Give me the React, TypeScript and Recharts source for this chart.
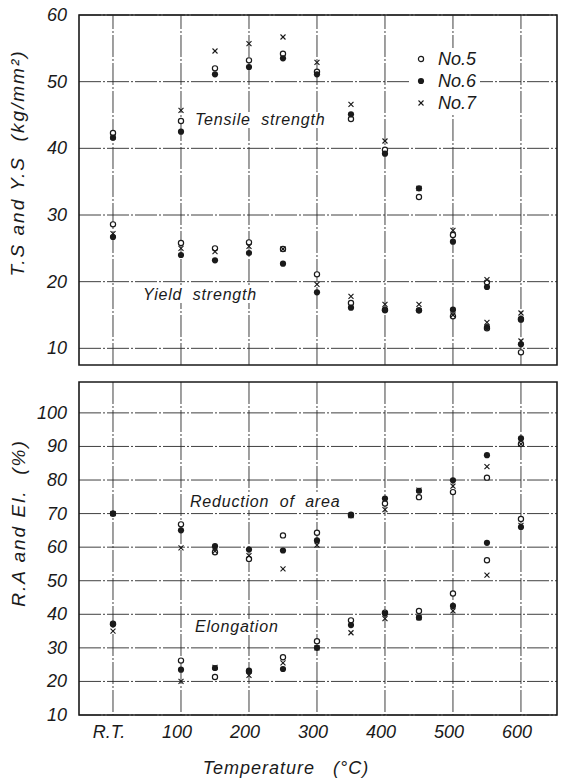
import React from 'react';
import { ScatterChart, Scatter, XAxis, YAxis, CartesianGrid, ReferenceArea, ReferenceLine } from 'recharts';

// Test temperatures (°C); R.T. plotted at 0
const temps = [0, 100, 150, 200, 250, 300, 350, 400, 450, 500, 550, 600];
const xTicks = [0, 100, 200, 300, 400, 500, 600];
const xTickLabels = ['R.T.', '100', '200', '300', '400', '500', '600'];
const topTicks = [10, 20, 30, 40, 50, 60];
const bottomTicks = [10, 20, 30, 40, 50, 60, 70, 80, 90, 100];

// Tensile strength (kg/mm²)
const ts5 = [42.3, 44.1, 52.0, 53.2, 54.2, 51.5, 44.4, 39.8, 32.7, 27.0, 19.9, 14.4];
const ts6 = [41.6, 42.5, 51.1, 52.2, 53.5, 51.1, 45.1, 39.2, 34.0, 26.0, 19.2, 14.3];
const ts7 = [41.7, 45.7, 54.6, 55.7, 56.7, 52.9, 46.6, 41.1, 34.0, 27.7, 20.3, 15.3];
// Yield strength (kg/mm²)
const ys5 = [28.6, 25.8, 25.0, 25.9, 24.9, 21.1, 16.8, 15.8, 15.7, 14.8, 13.0, 9.4];
const ys6 = [26.7, 24.0, 23.2, 24.3, 22.7, 18.4, 16.1, 15.7, 15.7, 15.8, 13.2, 10.6];
const ys7 = [27.2, 25.0, 24.5, 25.3, 24.9, 19.6, 17.8, 16.6, 16.6, 15.0, 13.9, 11.1];
// Reduction of area (%)
const ra5 = [70, 66.8, 58.5, 56.5, 63.5, 64.3, 69.5, 73.0, 74.9, 76.4, 80.7, 90.7];
const ra6 = [70, 65.0, 60.3, 59.3, 59.0, 62.0, 69.7, 74.5, 76.8, 79.9, 87.4, 92.4];
const ra7 = [70, 59.8, 58.8, 57.5, 53.5, 60.6, 69.4, 71.2, 77.0, 78.2, 84.0, 90.7];
// Elongation (%)
const el5 = [37.2, 26.2, 21.3, 23.0, 27.2, 32.0, 38.2, 40.5, 41.0, 46.2, 56.1, 68.4];
const el6 = [37.0, 23.5, 24.0, 23.2, 23.7, 30.0, 36.8, 40.2, 39.0, 42.5, 61.3, 66.0];
const el7 = [35.0, 20.0, 24.2, 21.8, 25.5, 30.0, 34.5, 38.7, 39.0, 41.0, 51.7, 66.5];

const specimens = ['No.5', 'No.6', 'No.7'];

const toPts = (vals: number[]) => temps.map((t, i) => ({ t, v: vals[i] }));

const INK = '#1a1a1a';
const FONT = '"Liberation Sans", Arial, sans-serif';

const OpenDot = (p: any) => (
  <circle cx={p.cx} cy={p.cy} r={2.6} fill="#fff" stroke={INK} strokeWidth={1.2} />
);
const FilledDot = (p: any) => <circle cx={p.cx} cy={p.cy} r={3.1} fill={INK} stroke="none" />;
const Cross = (p: any) => (
  <g stroke={INK} strokeWidth={1.1}>
    <line x1={p.cx - 2.5} y1={p.cy - 2.5} x2={p.cx + 2.5} y2={p.cy + 2.5} />
    <line x1={p.cx - 2.5} y1={p.cy + 2.5} x2={p.cx + 2.5} y2={p.cy - 2.5} />
  </g>
);
const shapes = [OpenDot, FilledDot, Cross];

const YTick = (p: any) => (
  <text x={p.x} y={p.y} textAnchor="end" dominantBaseline="central" fontFamily={FONT}
    fontStyle="italic" fontSize={18} fill={INK}>
    {p.payload.value}
  </text>
);
const XTick = (p: any) => {
  const idx = xTicks.indexOf(p.payload.value);
  return (
    <text x={p.x - 4} y={p.y + 9} textAnchor="middle" dominantBaseline="central" fontFamily={FONT}
      fontStyle="italic" fontSize={18} fill={INK}>
      {idx >= 0 ? xTickLabels[idx] : ''}
    </text>
  );
};

const txt: React.CSSProperties = {
  position: 'absolute',
  fontFamily: FONT,
  fontStyle: 'italic',
  color: INK,
  whiteSpace: 'nowrap',
  lineHeight: 1,
};

const gridStroke = '#2a2a2a';
const gridDash = '22 2 2 2';
const X_DOMAIN: [number, number] = [-50, 653];

export default function App() {
  const topSeries = [
    [ts5, ts6, ts7],
    [ys5, ys6, ys7],
  ];
  const botSeries = [
    [ra5, ra6, ra7],
    [el5, el6, el7],
  ];
  return (
    <div style={{ position: 'absolute', left: 0, top: 0, width: 562, height: 781, background: '#fff', overflow: 'hidden' }}>
      <div style={{ position: 'absolute', left: 0, top: 0 }}>
        <ScatterChart width={562} height={370} margin={{ top: 15, right: 5, bottom: 5, left: 0 }}>
          <CartesianGrid stroke={gridStroke} strokeWidth={0.9} strokeDasharray={gridDash}
            horizontalValues={topTicks} vertical={false} />
          <XAxis type="number" dataKey="t" domain={X_DOMAIN} ticks={xTicks} allowDataOverflow
            height={0} tick={false} axisLine={false} tickLine={false} />
          <YAxis type="number" dataKey="v" domain={[7.5, 60]} ticks={topTicks} allowDataOverflow width={79}
            tick={<YTick />} axisLine={false} tickLine={false} tickMargin={6} />
          {xTicks.map((t) => (
            <ReferenceLine key={`vl${t}`} x={t} stroke={gridStroke} strokeWidth={0.9} strokeDasharray={gridDash} />
          ))}
          <ReferenceArea x1={X_DOMAIN[0]} x2={X_DOMAIN[1]} y1={7.5} y2={60} fill="none" stroke={INK} strokeWidth={1.6} ifOverflow="visible" />
          {topSeries.map((grp, g) =>
            grp.map((vals, s) => (
              <Scatter key={`t${g}${s}`} data={toPts(vals)} shape={shapes[s]} isAnimationActive={false} />
            ))
          )}
        </ScatterChart>
      </div>
      <div style={{ position: 'absolute', left: 0, top: 370 }}>
        <ScatterChart width={562} height={411} margin={{ top: 12, right: 5, bottom: 6, left: 0 }}>
          <CartesianGrid stroke={gridStroke} strokeWidth={0.9} strokeDasharray={gridDash}
            horizontalValues={bottomTicks} verticalValues={xTicks} />
          <XAxis type="number" dataKey="t" domain={X_DOMAIN} ticks={xTicks} allowDataOverflow
            height={60} tick={<XTick />} axisLine={false} tickLine={false} />
          <YAxis type="number" dataKey="v" domain={[10, 109.2]} ticks={bottomTicks} allowDataOverflow width={79}
            tick={<YTick />} axisLine={false} tickLine={false} tickMargin={6} />
          <ReferenceArea x1={X_DOMAIN[0]} x2={X_DOMAIN[1]} y1={10} y2={109.2} fill="none" stroke={INK} strokeWidth={1.6} ifOverflow="visible" />
          {botSeries.map((grp, g) =>
            grp.map((vals, s) => (
              <Scatter key={`b${g}${s}`} data={toPts(vals)} shape={shapes[s]} isAnimationActive={false} />
            ))
          )}
        </ScatterChart>
      </div>

      {/* Axis titles */}
      <div style={{ ...txt, fontSize: 19, letterSpacing: 2, left: 17, top: 163, transform: 'translate(-50%, -50%) rotate(-90deg)' }}>
        T.S and Y.S&nbsp;&nbsp;(kg/mm²)
      </div>
      <div style={{ ...txt, fontSize: 19, letterSpacing: 2, left: 18, top: 523, transform: 'translate(-50%, -50%) rotate(-90deg)' }}>
        R.A and El.&nbsp;&nbsp;(%)
      </div>
      <div style={{ ...txt, fontSize: 18, letterSpacing: 1, left: 286, top: 768, transform: 'translate(-50%, -50%)' }}>
        Temperature&nbsp;&nbsp;&nbsp;(°C)
      </div>

      {/* Curve annotations */}
      <div style={{ ...txt, fontSize: 16, letterSpacing: 0.8, left: 193, top: 120, transform: 'translateY(-50%)', background: '#fff', padding: '0 2px' }}>Tensile&nbsp;&nbsp;strength</div>
      <div style={{ ...txt, fontSize: 16, letterSpacing: 0.8, left: 141, top: 295, transform: 'translateY(-50%)', background: '#fff', padding: '0 2px' }}>Yield&nbsp;&nbsp;strength</div>
      <div style={{ ...txt, fontSize: 16, letterSpacing: 0.8, left: 188, top: 502, transform: 'translateY(-50%)', background: '#fff', padding: '0 2px' }}>Reduction&nbsp;&nbsp;of&nbsp;&nbsp;area</div>
      <div style={{ ...txt, fontSize: 16, letterSpacing: 0.8, left: 193, top: 627, transform: 'translateY(-50%)', background: '#fff', padding: '0 2px' }}>Elongation</div>

      {/* Legend */}
      <div style={{ position: 'absolute', left: 410, top: 48, background: '#fff', padding: '0 4px' }}>
        {specimens.map((name, i) => {
          const Shape = shapes[i];
          return (
            <div key={name} style={{ display: 'flex', alignItems: 'center', height: 22 }}>
              <svg width={14} height={14}>
                <Shape cx={7} cy={7} />
              </svg>
              <span style={{ ...txt, position: 'static', fontSize: 18, marginLeft: 10 }}>{name}</span>
            </div>
          );
        })}
      </div>
    </div>
  );
}
